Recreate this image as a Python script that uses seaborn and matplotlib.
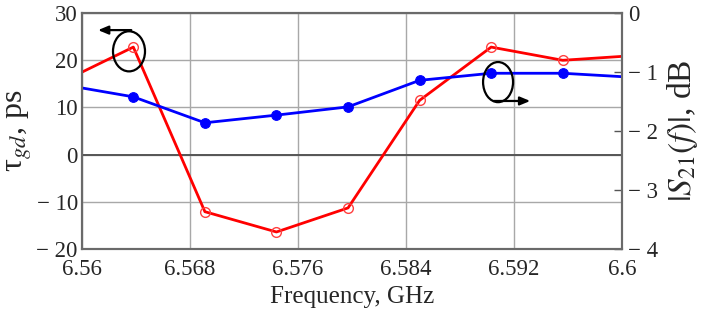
import matplotlib
matplotlib.use("Agg")
import matplotlib.pyplot as plt
import seaborn as sns
import numpy as np
import pandas as pd
from matplotlib.patches import Ellipse

# ---- data ----
freq = [6.5585, 6.5638, 6.5691, 6.5744, 6.5797, 6.5850, 6.5903, 6.5956, 6.6009]
tau_gd = [15.4, 22.8, -12.1, -16.4, -11.3, 11.5, 22.8, 20.0, 21.0]
s21_db = [-1.21, -1.42, -1.86, -1.73, -1.59, -1.14, -1.02, -1.02, -1.09]

x_ticks = [6.56, 6.568, 6.576, 6.584, 6.592, 6.6]
x_ticklabels = ["6.56", "6.568", "6.576", "6.584", "6.592", "6.6"]
left_ticks = [-20, -10, 0, 10, 20, 30]
left_ticklabels = ["\u2212 20", "\u2212 10", "0", "10", "20", "30"]
right_ticks = [-4, -3, -2, -1, 0]
right_ticklabels = ["\u2212 4", "\u2212 3", "\u2212 2", "\u2212 1", "0"]

sns.set_style("white")
plt.rcParams["font.family"] = ["Liberation Serif", "DejaVu Serif"]
plt.rcParams["mathtext.fontset"] = "stix"

fig = plt.figure(figsize=(7.07, 3.2), dpi=100)
ax = fig.add_axes([0.116, 0.222, 0.764, 0.737])
ax2 = ax.twinx()

df = pd.DataFrame({"f": freq, "tau": tau_gd, "s21": s21_db})

sns.lineplot(data=df, x="f", y="tau", ax=ax, color="#ff0000", linewidth=2.0,
             marker="o", markersize=7, markerfacecolor="none",
             markeredgecolor="#ff4040", markeredgewidth=1.0, sort=True)
sns.lineplot(data=df, x="f", y="s21", ax=ax2, color="#0000ff", linewidth=2.0,
             marker="o", markersize=7, markerfacecolor="#0000ff",
             markeredgecolor="#0000ff", sort=True)

ax.set_xlim(6.56, 6.6)
ax.set_ylim(-20, 30)
ax2.set_ylim(-4, 0)

TF = 16.5
ax.set_xticks(x_ticks)
ax.set_xticklabels(x_ticklabels, fontsize=TF)
ax.set_yticks(left_ticks)
ax.set_yticklabels(left_ticklabels, fontsize=TF)
ax2.set_yticks(right_ticks)
ax2.set_yticklabels(right_ticklabels, fontsize=TF)

ax.tick_params(axis="y", length=0, pad=3)
ax.tick_params(axis="x", length=0, pad=7.5)
ax2.tick_params(axis="y", direction="in", length=6, width=1, color="#555555", pad=4)

ax.grid(True, color="#a8a8a8", linewidth=1.0)
ax.axhline(0, color="#555555", linewidth=1.4, zorder=1)

for a in (ax, ax2):
    for s in a.spines.values():
        s.set_color("#6a6a6a")
        s.set_linewidth(1.5)

ax.set_xlabel("Frequency, GHz", fontsize=18, labelpad=4)
ax.set_ylabel("\u03c4$_{gd}$, ps", fontsize=23, labelpad=2)
ax2.set_ylabel(r"$|S_{21}(f)|$, dB", fontsize=24, labelpad=5, rotation=90)

# annotations: ellipses with arrows
ax.add_patch(Ellipse((6.56348, 21.9), 0.00237, 8.5, fill=False,
                     edgecolor="black", linewidth=1.6, zorder=5))
ax.annotate("", xy=(6.56119, 26.4), xytext=(6.56365, 26.4),
            arrowprops=dict(arrowstyle="-|>,head_width=0.25,head_length=0.6",
                            color="black", lw=1.6, shrinkA=0, shrinkB=0), zorder=5)
ax2.add_patch(Ellipse((6.59081, -1.17), 0.00222, 0.68, fill=False,
                      edgecolor="black", linewidth=1.6, zorder=5))
ax2.annotate("", xy=(6.59319, -1.49), xytext=(6.59050, -1.49),
             arrowprops=dict(arrowstyle="-|>,head_width=0.25,head_length=0.6",
                             color="black", lw=1.6, shrinkA=0, shrinkB=0), zorder=5)

fig.savefig("out.png", dpi=100)
